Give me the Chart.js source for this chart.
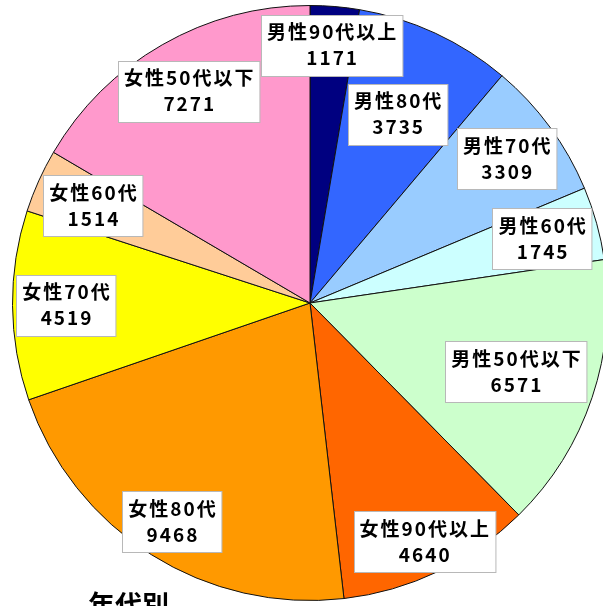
<!DOCTYPE html>
<html>
<head>
<meta charset="utf-8">
<script src="https://cdn.jsdelivr.net/npm/chart.js@4/dist/chart.umd.min.js"></script>
<style>
  html, body { margin: 0; padding: 0; background: #fff; overflow: hidden; }
  #wrap { width: 620px; height: 606px; }
</style>
</head>
<body>
<div id="wrap"><canvas id="c" width="620" height="606"></canvas></div>
<script>
const categories = ['男性90代以上', '男性80代', '男性70代', '男性60代', '男性50代以下',
                    '女性90代以上', '女性80代', '女性70代', '女性60代', '女性50代以下'];
const counts = [1171, 3735, 3309, 1745, 6571, 4640, 9468, 4519, 1514, 7271];
const sliceColors = ['#000080', '#3366FF', '#99CCFF', '#CCFFFF', '#CCFFCC',
                     '#FF6600', '#FF9900', '#FFFF00', '#FFCC99', '#FF99CC'];
const footerTitle = '年代別';

const labelPlugin = {
  id: 'boxLabels',
  afterDatasetsDraw(chart, args, opts) {
    const ctx = chart.ctx;
    const meta = chart.getDatasetMeta(0);
    ctx.save();
    ctx.font = 'bold 19px "Noto Sans CJK JP"';
    if ('letterSpacing' in ctx) ctx.letterSpacing = '2px';
    ctx.textAlign = 'left';
    ctx.textBaseline = 'middle';
    meta.data.forEach((arc, i) => {
      const mid = (arc.startAngle + arc.endAngle) / 2;
      const r = arc.outerRadius * opts.radiusFrac[i];
      const cx = arc.x + Math.cos(mid) * r;
      const cy = arc.y + Math.sin(mid) * r;
      const lines = [chart.data.labels[i], String(chart.data.datasets[0].data[i])];
      const widths = lines.map(t => ctx.measureText(t).width - 2);
      const w = Math.max(...widths) + 12;
      const h = 61;
      const x0 = Math.round(cx - w / 2) + 0.5;
      const y0 = Math.round(cy - h / 2) + 0.5;
      ctx.fillStyle = '#ffffff';
      ctx.fillRect(x0, y0, w, h);
      ctx.strokeStyle = '#b8b8b8';
      ctx.lineWidth = 1;
      ctx.strokeRect(x0, y0, w, h);
      ctx.fillStyle = '#000000';
      lines.forEach((t, k) => {
        ctx.fillText(t, cx - widths[k] / 2, cy + (k === 0 ? -13 : 13));
      });
    });
    ctx.restore();
  },
  afterDraw(chart) {
    const ctx = chart.ctx;
    ctx.save();
    ctx.font = 'bold 27px "Noto Sans CJK JP"';
    ctx.fillStyle = '#000';
    ctx.textAlign = 'left';
    ctx.textBaseline = 'alphabetic';
    ctx.fillText(footerTitle, 88, 615);
    ctx.restore();
  }
};

new Chart(document.getElementById('c'), {
  type: 'pie',
  data: {
    labels: categories,
    datasets: [{
      data: counts,
      backgroundColor: sliceColors,
      borderColor: '#111111',
      borderWidth: 1
    }]
  },
  options: {
    responsive: false,
    animation: false,
    layout: { padding: { left: 12, right: 12, top: 5, bottom: 5 } },
    plugins: {
      legend: { display: false },
      tooltip: { enabled: false },
      boxLabels: { radiusFrac: [0.87, 0.70, 0.82, 0.81, 0.73, 0.89, 0.87, 0.82, 0.80, 0.82] }
    }
  },
  plugins: [labelPlugin]
});
</script>
</body>
</html>
